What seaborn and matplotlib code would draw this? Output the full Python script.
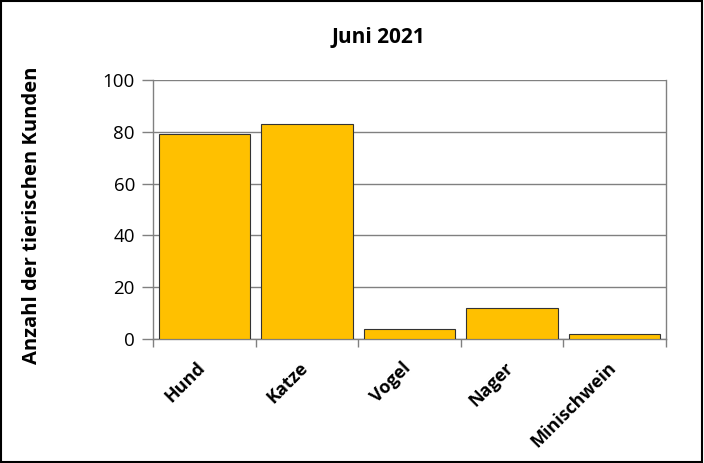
import matplotlib
matplotlib.use("Agg")
import matplotlib.pyplot as plt
import matplotlib.transforms as mtransforms
import seaborn as sns
import pandas as pd
from matplotlib.patches import Rectangle

categories = ["Hund", "Katze", "Vogel", "Nager", "Minischwein"]
values = [79, 83, 4, 12, 2]
yticks = [0, 20, 40, 60, 80, 100]
title = "Juni 2021"
ylabel = "Anzahl der tierischen Kunden"

sns.set_theme(style="white")
plt.rcParams['font.family'] = ['Open Sans', 'DejaVu Sans']
plt.rcParams['text.color'] = 'black'
plt.rcParams['xtick.labelcolor'] = 'black'
plt.rcParams['ytick.labelcolor'] = 'black'

df = pd.DataFrame({"cat": categories, "val": values})

fig = plt.figure(figsize=(7.04, 4.63), dpi=100)
ax = fig.add_axes([153/704, 1-339/463, (666-153)/704, (339-80)/463])

sns.barplot(data=df, x="cat", y="val", color="#FFC000", saturation=1,
            width=0.89, edgecolor="#333333", linewidth=0.8, ax=ax, zorder=3)

ax.set_ylim(0, 100)
ax.set_xlim(-0.5, len(categories) - 0.5)
ax.set_yticks(yticks)
ax.set_yticklabels([str(t) for t in yticks], fontsize=13.5, color="black")
ax.yaxis.grid(True, color="#808080", linewidth=1)
ax.set_axisbelow(True)
ax.tick_params(axis="y", length=8, width=1, color="#808080", left=True, pad=5)

ax.set_xticks(range(len(categories)))
ax.set_xticklabels(categories, rotation=45, ha="right", va="top",
                   rotation_mode="anchor", fontsize=13, fontweight="bold", color="black")
ax.tick_params(axis="x", which="major", length=0, pad=14)
ax.set_xticks([i - 0.5 for i in range(len(categories) + 1)], minor=True)
ax.tick_params(axis="x", which="minor", length=6, width=1, color="#808080", bottom=True)
shift = mtransforms.ScaledTranslation(-8/100, 0, fig.dpi_scale_trans)
for lbl in ax.get_xticklabels():
    lbl.set_transform(lbl.get_transform() + shift)

ax.set_xlabel("")
ax.set_ylabel("")
for s in ["left", "right", "bottom"]:
    ax.spines[s].set_visible(True)
    ax.spines[s].set_color("#808080")
    ax.spines[s].set_linewidth(1)
ax.spines["top"].set_visible(False)

fig.text(378/704, 1-37/463, title, ha="center", va="center",
         fontsize=15, fontweight="bold", color="black")
fig.text(32/704, 1-215/463, ylabel, ha="center", va="center",
         rotation=90, fontsize=14.5, fontweight="bold", color="black")

fig.patches.append(Rectangle((0.002, 0.003), 0.995, 0.994, transform=fig.transFigure,
                             fill=False, edgecolor="black", linewidth=1.5))

fig.savefig("out.png", dpi=100)
